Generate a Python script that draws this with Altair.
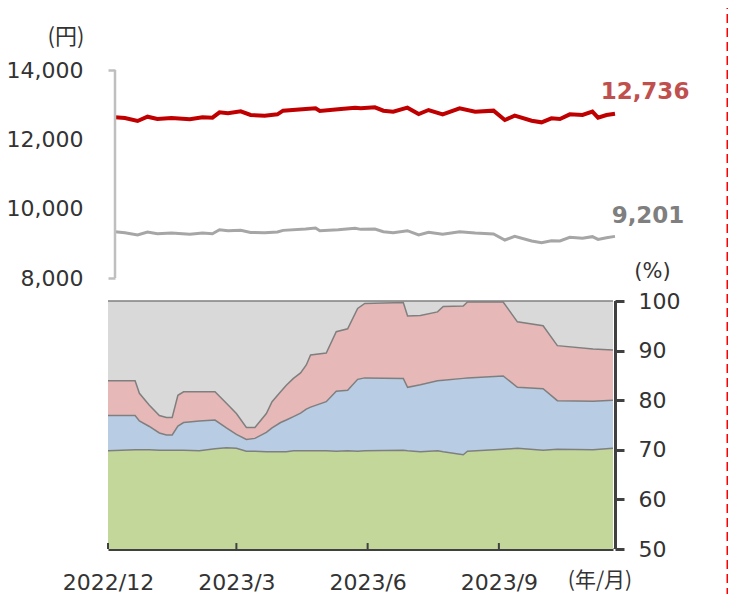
import altair as alt
import pandas as pd

# ---------------- data ----------------
START = "2022-12-01"
END = "2023-11-20"

top_dates = [
    "2022-12-01", "2022-12-08", "2022-12-17", "2022-12-24", "2022-12-31",
    "2023-01-10", "2023-01-23", "2023-02-01", "2023-02-08", "2023-02-13",
    "2023-02-19", "2023-02-28", "2023-03-07", "2023-03-17", "2023-03-26",
    "2023-03-30", "2023-04-15", "2023-04-22", "2023-04-25", "2023-05-08",
    "2023-05-20", "2023-05-24", "2023-06-03", "2023-06-09", "2023-06-16",
    "2023-06-26", "2023-07-04", "2023-07-11", "2023-07-21", "2023-08-02",
    "2023-08-13", "2023-08-26", "2023-09-03", "2023-09-10", "2023-09-22",
    "2023-09-29", "2023-10-06", "2023-10-12", "2023-10-19", "2023-10-28",
    "2023-11-04", "2023-11-08", "2023-11-14", "2023-11-20",
]
red_values = [
    12635, 12615, 12529, 12653, 12586, 12615, 12577, 12635, 12625, 12779,
    12750, 12808, 12702, 12683, 12721, 12827, 12875, 12894, 12817, 12866,
    12913, 12894, 12923, 12827, 12798, 12913, 12731, 12846, 12721, 12894,
    12798, 12827, 12558, 12683, 12538, 12490, 12606, 12586, 12721, 12702,
    12798, 12625, 12702, 12736,
]
gray_values = [
    9335, 9306, 9240, 9326, 9277, 9297, 9259, 9297, 9277, 9393,
    9364, 9374, 9316, 9306, 9326, 9374, 9413, 9442, 9364, 9393,
    9432, 9403, 9413, 9335, 9306, 9364, 9240, 9316, 9259, 9335,
    9297, 9268, 9096, 9201, 9067, 9018, 9076, 9067, 9173, 9144,
    9192, 9115, 9163, 9201,
]

bottom_dates = [
    "2022-12-01", "2022-12-20", "2022-12-23", "2022-12-30", "2023-01-06",
    "2023-01-11", "2023-01-15", "2023-01-19", "2023-01-23", "2023-02-03",
    "2023-02-14", "2023-02-22", "2023-03-01", "2023-03-08", "2023-03-14",
    "2023-03-22", "2023-03-26", "2023-04-01", "2023-04-05", "2023-04-10",
    "2023-04-15", "2023-04-19", "2023-04-22", "2023-05-03", "2023-05-10",
    "2023-05-18", "2023-05-25", "2023-05-30", "2023-06-26", "2023-06-29",
    "2023-07-08", "2023-07-20", "2023-07-24", "2023-08-07", "2023-08-10",
    "2023-09-04", "2023-09-14", "2023-10-02", "2023-10-12", "2023-11-06",
    "2023-11-20",
]
# cumulative levels (%) of the band tops
green_top = [
    69.8, 70.0, 70.0, 70.0, 69.9, 69.9, 69.9, 69.9, 69.9, 69.8,
    70.2, 70.4, 70.3, 69.7, 69.7, 69.6, 69.6, 69.6, 69.6, 69.8,
    69.8, 69.8, 69.8, 69.8, 69.7, 69.8, 69.7, 69.8, 69.9, 69.8,
    69.6, 69.8, 69.6, 69.0, 69.7, 70.1, 70.3, 69.9, 70.1, 70.0,
    70.3,
]
blue_top = [
    76.9, 76.9, 75.8, 74.7, 73.4, 73.0, 73.0, 74.8, 75.5, 75.8,
    76.0, 74.4, 73.1, 72.1, 72.3, 73.5, 74.4, 75.5, 76.0, 76.7,
    77.4, 78.2, 78.6, 79.7, 81.8, 82.0, 84.2, 84.5, 84.4, 82.6,
    83.1, 83.9, 84.0, 84.4, 84.5, 84.9, 82.6, 82.3, 79.9, 79.8,
    80.0,
]
pink_top = [
    83.9, 83.9, 81.4, 79.0, 76.9, 76.5, 76.5, 81.0, 81.7, 81.7,
    81.7, 79.4, 77.3, 74.5, 74.5, 77.3, 79.7, 81.7, 83.0, 84.4,
    85.5, 87.1, 89.1, 89.5, 93.8, 94.4, 98.5, 99.5, 99.7, 97.0,
    97.1, 97.8, 98.9, 99.0, 99.8, 99.8, 95.8, 95.0, 91.0, 90.3,
    90.1,
]
TOTAL = 100

band_names = ["band1", "band2", "band3", "band4"]
band_colors = ["#c4d79b", "#b8cce4", "#e6b8b7", "#d9d9d9"]

tick_dates = ["2022-12-01", "2023-03-01", "2023-06-01", "2023-09-01"]
tick_labels = ["2022/12", "2023/3", "2023/6", "2023/9"]
left_ticks = [8000, 10000, 12000, 14000]
right_ticks = [50, 60, 70, 80, 90, 100]

# ---------------- layout ----------------
W, H = 505, 479
FONT = "DejaVu Sans"
JFONT = "Noto Sans CJK JP"

start = pd.Timestamp(START)
def day(ds):
    return [(pd.Timestamp(d) - start).days for d in ds]

N = (pd.Timestamp(END) - start).days

# top panel: data spans 500px, starting 7px inside the plot
s_top = 500.0 / N
xt_domain = [-7.0 / s_top, -7.0 / s_top + W / s_top]
# top y: 14000 at 0px, 8000 at 208px
yt_lo = 14000 - 6000 * H / 208.0
yt_domain = [yt_lo, 14000]
# bottom y: 100 at 231px, 50 at 479px
yb_domain = [50, 100 + 231 * 50 / 248.0]

top_df = pd.DataFrame({"day": day(top_dates), "red": red_values, "gray": gray_values})
last = top_df.iloc[[-1]]

bd = day(bottom_dates)
levels = [[0] * len(bd), green_top, blue_top, pink_top, [TOTAL] * len(bd)]
rows = []
for i, name in enumerate(band_names):
    for j, d in enumerate(bd):
        rows.append({"day": d, "band": name, "lo": levels[i][j], "hi": levels[i + 1][j]})
bottom_df = pd.DataFrame(rows)

tick_days = day(tick_dates)
label_expr = "''"
for d, lab in zip(reversed(tick_days), reversed(tick_labels)):
    label_expr = f"datum.value == {d} ? '{lab}' : ({label_expr})"

xb_scale = alt.Scale(domain=[0, N], nice=False, zero=False)
yb_scale = alt.Scale(domain=yb_domain, nice=False, zero=False)
xt_scale = alt.Scale(domain=xt_domain, nice=False, zero=False)
yt_scale = alt.Scale(domain=yt_domain, nice=False, zero=False)

# ---------------- bottom panel ----------------
areas = alt.Chart(bottom_df).mark_area(clip=True, opacity=1).encode(
    x=alt.X("day:Q", scale=xb_scale, axis=alt.Axis(
        values=tick_days, labelExpr=label_expr, title=None, grid=False,
        domainColor="#404040", domainWidth=3, ticks=False, tickSize=0,
        labelPadding=23, labelFont=FONT, labelFontSize=22, labelColor="#333333",
        labelFlush=False)),
    y=alt.Y("hi:Q", scale=yb_scale, axis=alt.Axis(
        orient="right", values=right_ticks, domain=False, grid=False,
        tickSize=9, tickWidth=3, tickColor="#404040", offset=2,
        labelPadding=14, labelFont=FONT, labelFontSize=22, labelColor="#333333",
        title="(%)", titleAngle=0, titleX=37, titleY=201, titleAlign="center",
        titleBaseline="middle", titleFont=FONT, titleFontSize=21,
        titleFontWeight="normal", titleColor="#333333")),
    y2="lo:Q",
    color=alt.Color("band:N", scale=alt.Scale(domain=band_names, range=band_colors), legend=None),
)
edges = alt.Chart(bottom_df).mark_line(color="#7f7f7f", strokeWidth=1.5, clip=True).encode(
    x="day:Q", y="hi:Q", detail="band:N")
tick_df = pd.DataFrame({"day": tick_days})
xticks = alt.Chart(tick_df).mark_rule(color="#404040", strokeWidth=2).encode(
    x="day:Q", y=alt.datum(50), y2=alt.datum(51.2))
raxis = alt.Chart(pd.DataFrame({"day": [N]})).mark_rule(
    color="#404040", strokeWidth=3, xOffset=2.5).encode(
    x="day:Q", y=alt.datum(50), y2=alt.datum(100))
bottom = alt.layer(areas, edges, xticks, raxis)

# ---------------- top panel ----------------
red_line = alt.Chart(top_df).mark_line(color="#c00000", strokeWidth=4).encode(
    x=alt.X("day:Q", scale=xt_scale, axis=None),
    y=alt.Y("red:Q", scale=yt_scale, axis=alt.Axis(
        orient="left", values=left_ticks, labelExpr="format(datum.value, ',.0f')",
        domain=False, grid=False,
        offset=-7, tickSize=7, tickWidth=2.5, tickColor="#bfbfbf",
        tickOpacity={"condition": {"test": "datum.value == 8000 || datum.value == 14000", "value": 1}, "value": 0},
        labelPadding=25, labelFont=FONT, labelFontSize=22, labelColor="#333333",
        title=None)),
)
gray_line = alt.Chart(top_df).mark_line(color="#a6a6a6", strokeWidth=3).encode(
    x="day:Q", y="gray:Q")
laxis = alt.Chart(pd.DataFrame({"day": [0]})).mark_rule(color="#bfbfbf", strokeWidth=2.5).encode(
    x="day:Q", y=alt.datum(8000), y2=alt.datum(14000))
red_lab = alt.Chart(last).mark_text(
    font=FONT, fontSize=23, fontWeight="bold", color="#c0504d", dx=30, dy=-22,
    align="center", baseline="middle").encode(
    x="day:Q", y="red:Q", text=alt.Text("red:Q", format=",.0f"))
gray_lab = alt.Chart(last).mark_text(
    font=FONT, fontSize=23, fontWeight="bold", color="#7f7f7f", dx=33, dy=-20,
    align="center", baseline="middle").encode(
    x="day:Q", y="gray:Q", text=alt.Text("gray:Q", format=",.0f"))

units = pd.DataFrame({"t": ["(円)"]})
yen = alt.Chart(units).mark_text(font=JFONT, fontSize=22, color="#333333",
                                 align="center", baseline="middle").encode(
    x=alt.value(-42), y=alt.value(-33), text="t:N")
ym = alt.Chart(pd.DataFrame({"t": ["(年/月)"]})).mark_text(
    font=JFONT, fontSize=21, color="#333333", align="center", baseline="middle").encode(
    x=alt.value(492), y=alt.value(511), text="t:N")
frame = alt.Chart(pd.DataFrame({"k": [0]})).mark_rule(
    color="#ff0000", strokeWidth=2, strokeDash=[9, 5]).encode(
    x=alt.value(619.5), y=alt.value(-70), y2=alt.value(529))

top = alt.layer(red_line, gray_line, laxis, red_lab, gray_lab, yen, ym, frame)

chart = alt.layer(bottom, top).resolve_scale(
    x="independent", y="independent", color="independent"
).properties(
    width=W, height=H,
    padding={"left": 100, "top": 62, "right": 115, "bottom": 45},
    autosize=alt.AutoSizeParams(type="none"),
).configure_view(stroke=None)

chart.save("out.html", embed_options={"renderer": "svg", "actions": False})
